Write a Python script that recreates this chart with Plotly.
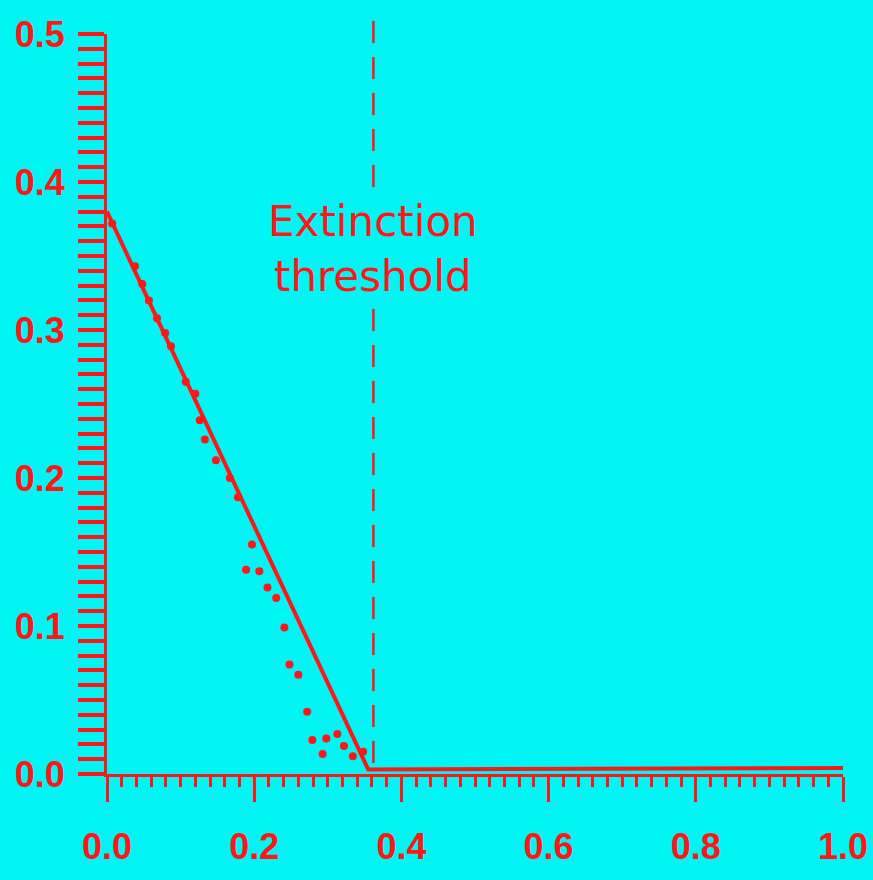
import plotly.graph_objects as go

# ---- data ----
model_x = [0.0, 0.355, 1.0]
model_y = [0.38, 0.003, 0.004]

sim_x = [0.007, 0.038, 0.048, 0.057, 0.068, 0.079, 0.087, 0.107, 0.120, 0.126, 0.133, 0.148,
         0.167, 0.178, 0.197, 0.189, 0.207, 0.218, 0.230, 0.241, 0.248, 0.260, 0.272,
         0.279, 0.293, 0.298, 0.313, 0.322, 0.334, 0.348]
sim_y = [0.372, 0.343, 0.331, 0.320, 0.308, 0.298, 0.289, 0.265, 0.257, 0.239, 0.226, 0.212,
         0.200, 0.187, 0.155, 0.138, 0.137, 0.126, 0.119, 0.099, 0.074, 0.067, 0.042,
         0.023, 0.0135, 0.024, 0.027, 0.019, 0.012, 0.015]

threshold_x = 0.362
annotation_text = "Extinction<br>threshold"

x_major = [0.0, 0.2, 0.4, 0.6, 0.8, 1.0]
x_labels = ["0.0", "0.2", "0.4", "0.6", "0.8", "1.0"]
y_major = [0.0, 0.1, 0.2, 0.3, 0.4, 0.5]
y_labels = ["0.0", "0.1", "0.2", "0.3", "0.4", "0.5"]

RED = "#FF1616"
BG = "#00F5F5"
TICKFONT = dict(family="Liberation Sans, Arial, sans-serif",
                size=36, color=RED, weight="bold")

fig = go.Figure()
fig.add_trace(go.Scatter(x=model_x, y=model_y, mode="lines",
                         line=dict(color=RED, width=4), showlegend=False, cliponaxis=False))
fig.add_trace(go.Scatter(x=sim_x, y=sim_y, mode="markers",
                         marker=dict(color=RED, size=8), showlegend=False))

fig.add_shape(type="line", xref="x", yref="paper", x0=threshold_x, x1=threshold_x,
              y0=0.015, y1=1.03, line=dict(color=RED, width=2.5, dash="22px,14px"))

fig.add_annotation(x=threshold_x, y=0.355, xref="x", yref="y", text=annotation_text,
                   showarrow=False, xanchor="center", yanchor="middle",
                   font=dict(family="DejaVu Sans, sans-serif", size=42, color=RED),
                   bgcolor=BG)

fig.update_layout(
    width=873, height=880,
    margin=dict(l=107, r=30, t=34, b=106, autoexpand=False),
    paper_bgcolor=BG, plot_bgcolor=BG,
    showlegend=False,
)
fig.update_xaxes(range=[0, 1.0], showgrid=False, zeroline=False, automargin=False,
                 showline=True, linecolor=RED, linewidth=3,
                 tickmode="array", tickvals=x_major, ticktext=x_labels,
                 ticks="outside", ticklen=25, tickwidth=3, tickcolor=RED,
                 ticklabelstandoff=14, ticklabeloverflow="allow", tickfont=TICKFONT,
                 minor=dict(dtick=0.02, tick0=0, ticks="outside", ticklen=10,
                            tickwidth=3, tickcolor=RED, showgrid=False))
fig.update_yaxes(range=[0, 0.5], showgrid=False, zeroline=False, automargin=False,
                 showline=True, linecolor=RED, linewidth=3,
                 tickmode="array", tickvals=y_major, ticktext=y_labels,
                 ticks="outside", ticklen=26, tickwidth=4, tickcolor=RED,
                 ticklabelstandoff=6, ticklabeloverflow="allow", tickfont=TICKFONT,
                 minor=dict(dtick=0.01, tick0=0, ticks="outside", ticklen=26,
                            tickwidth=4, tickcolor=RED, showgrid=False))

fig.write_html("out.html")
